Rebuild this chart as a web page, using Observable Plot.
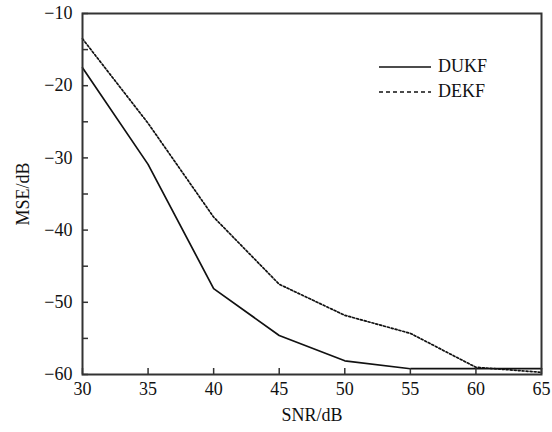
<!DOCTYPE html>
<html><head><meta charset="utf-8">
<script src="https://cdn.jsdelivr.net/npm/d3@7"></script>
<script src="https://cdn.jsdelivr.net/npm/@observablehq/plot@0.6"></script>
<style>
body{margin:0;background:#fff}
#wrap{position:relative;width:552px;height:432px;font-family:"Liberation Serif","DejaVu Serif",serif}
#legend{position:absolute;left:379px;top:54px;font-size:18px;line-height:25px;color:#111}
#legend div{display:flex;align-items:center}
#legend svg{margin-right:7px}
</style>
</head><body><div id="wrap"></div>
<script>
const snr = [30, 35, 40, 45, 50, 55, 60, 65];
const dukf = [-17.5, -30.9, -48.1, -54.6, -58.1, -59.2, -59.2, -59.2];
const dekf = [-13.5, -25.2, -38.2, -47.5, -51.8, -54.3, -59.0, -59.7];
const seriesNames = ["DUKF", "DEKF"];
const xTicks = [30, 35, 40, 45, 50, 55, 60, 65];
const yTicks = [-60, -55, -50, -45, -40, -35, -30, -25, -20, -15, -10];

const rowsU = snr.map((x, i) => ({x, y: dukf[i]}));
const rowsE = snr.map((x, i) => ({x, y: dekf[i]}));

const chart = Plot.plot({
  width: 552,
  height: 432,
  marginLeft: 82,
  marginRight: 11,
  marginTop: 13,
  marginBottom: 58,
  style: {fontFamily: '"Liberation Serif","DejaVu Serif",serif', fontSize: "18px", color: "#111", background: "#fff"},
  x: {domain: [30, 65]},
  y: {domain: [-60, -10]},
  marks: [
    Plot.line(rowsE, {x: "x", y: "y", stroke: "#111", strokeWidth: 1.7, strokeDasharray: "2,2"}),
    Plot.line(rowsU, {x: "x", y: "y", stroke: "#111", strokeWidth: 1.7}),
    Plot.axisX(xTicks, {tickSize: -6, tickPadding: 14, stroke: "#333", strokeWidth: 1.5,
      tickFormat: d => String(d), label: "SNR/dB", labelAnchor: "center", labelArrow: "none", labelOffset: 46}),
    Plot.axisY(yTicks, {tickSize: -6, tickPadding: 16, stroke: "#333", strokeWidth: 1.5,
      tickFormat: d => d % 10 === 0 ? "\u2212" + Math.abs(d) : "", label: "MSE/dB", labelAnchor: "center", labelArrow: "none", labelOffset: 66}),
    Plot.frame({stroke: "#333", strokeWidth: 2})
  ]
});
const wrap = document.getElementById("wrap");
wrap.appendChild(chart);

const legend = document.createElement("div");
legend.id = "legend";
const dashes = ["", "4,3"];
seriesNames.forEach((name, i) => {
  const row = document.createElement("div");
  row.innerHTML = `<svg width="52" height="10"><line x1="0" x2="52" y1="5" y2="5" stroke="#111" stroke-width="1.5" ${dashes[i] ? `stroke-dasharray="${dashes[i]}"` : ""}/></svg><span>${name}</span>`;
  legend.appendChild(row);
});
wrap.appendChild(legend);
</script>
</body></html>
